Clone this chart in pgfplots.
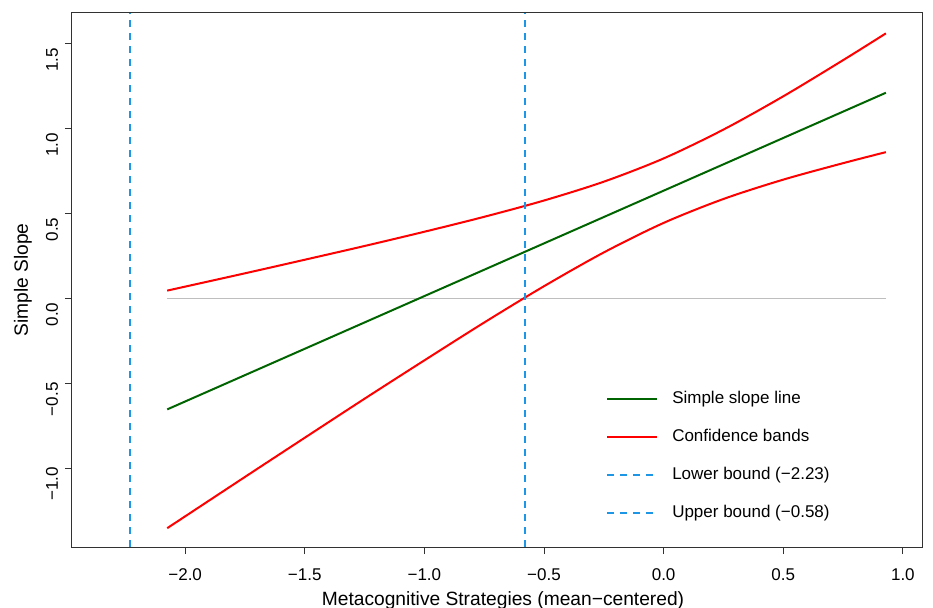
\documentclass[border=0pt]{standalone}
\usepackage{pgfplots}
\pgfplotsset{compat=1.18}
\usepackage{fontspec}
\setmainfont{Liberation Sans}

\definecolor{slopegreen}{RGB}{0,100,0}
\definecolor{bandred}{RGB}{255,0,0}
\definecolor{boundblue}{RGB}{30,150,230}
\definecolor{zerogray}{RGB}{190,190,190}
\definecolor{boxgray}{RGB}{50,50,50}

\newcommand{\rfont}{\fontsize{8.5}{10}\selectfont}
\newcommand{\lfont}{\fontsize{9.6}{11}\selectfont}

\begin{document}
\begin{tikzpicture}
\begin{axis}[
    scale only axis,
    width=425pt, height=267pt,
    xmin=-2.473, xmax=1.08,
    ymin=-1.465, ymax=1.682,
    axis line style={boxgray, line width=0.5pt},
    tick style={boxgray, line width=0.5pt},
    tick align=outside,
    major tick length=3.5pt,
    xtick={-2,-1.5,-1,-0.5,0,0.5,1},
    xticklabels={−2.0,−1.5,−1.0,−0.5,0.0,0.5,1.0},
    ytick={-1,-0.5,0,0.5,1,1.5},
    yticklabels={−1.0,−0.5,0.0,0.5,1.0,1.5},
    xtick pos=bottom, ytick pos=left,
    ticklabel style={font=\rfont},
    xticklabel style={yshift=-4pt},
    yticklabel style={rotate=90, anchor=south, xshift=-8pt},
    xlabel={Metacognitive Strategies (mean−centered)},
    every axis x label/.style={at={([xshift=3pt,yshift=-29pt]axis description cs:0.5,0)}, anchor=base, font=\lfont},
    ylabel={Simple Slope},
    every axis y label/.style={at={([xshift=-22pt]axis description cs:0,0.5)}, rotate=90, anchor=base, font=\lfont},
    legend cell align=left,
    legend image code/.code={\draw[#1] (0pt,0pt) -- (25pt,0pt);},
    legend style={draw=none, fill=none, font=\rfont,
        at={(rel axis cs:0.621,0.304)}, anchor=north west,
        row sep=9.4pt, column sep=6pt, nodes={inner sep=1pt}},
    clip=false,
]
% zero reference line
\addplot[zerogray, line width=0.7pt, forget plot] coordinates {(-2.075,0) (0.929,0)};

% simple slope line
\addplot[slopegreen, line width=1pt] coordinates {(-2.075,-0.654) (0.929,1.212)};
\addlegendentry{Simple slope line}

% confidence bands
\addplot[bandred, line width=1pt, smooth] coordinates {
    (-2.075,0.046) (-1.75,0.148) (-1.5,0.228) (-1.25,0.309) (-1.0,0.393)
    (-0.75,0.481) (-0.5,0.577) (-0.25,0.688) (0,0.825) (0.25,0.995)
    (0.5,1.191) (0.75,1.404) (0.929,1.562)
};
\addlegendentry{Confidence bands}
\addplot[bandred, line width=1pt, smooth, forget plot] coordinates {
    (-2.075,-1.354) (-1.75,-1.052) (-1.5,-0.821) (-1.25,-0.591) (-1.0,-0.365)
    (-0.75,-0.142) (-0.5,0.072) (-0.25,0.271) (0,0.445) (0.25,0.586)
    (0.5,0.700) (0.75,0.797) (0.929,0.862)
};

% region of significance bounds
\addplot[boundblue, line width=1pt, dash pattern=on 3.5pt off 3pt] coordinates {(-2.23,-1.465) (-2.23,1.682)};
\addlegendentry{Lower bound (−2.23)}
\addplot[boundblue, line width=1pt, dash pattern=on 3.5pt off 3pt] coordinates {(-0.58,-1.465) (-0.58,1.682)};
\addlegendentry{Upper bound (−0.58)}
\end{axis}
\pgfresetboundingbox
\useasboundingbox ([xshift=-36pt,yshift=-30pt]current axis.south west) rectangle ([xshift=5.5pt,yshift=6.5pt]current axis.north east);
\end{tikzpicture}
\end{document}
